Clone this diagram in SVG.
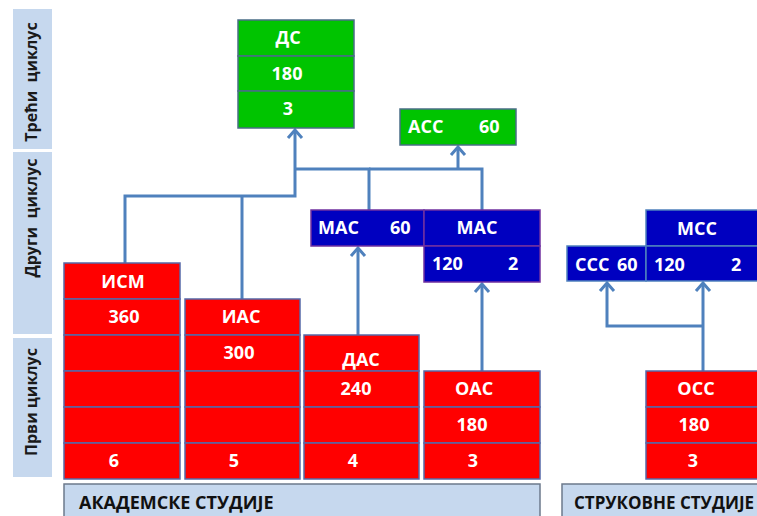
<svg xmlns="http://www.w3.org/2000/svg" width="757" height="516" viewBox="0 0 757 516">
<defs>
<style>
.band{fill:#C6D8EE;}
.bl{font-family:"Open Sans","Liberation Sans",sans-serif;font-weight:bold;font-size:16px;fill:#1A1A1A;text-anchor:middle;}
.red{fill:#FF0000;stroke:#5668A8;stroke-width:1.5;}
.grn{fill:#00C400;stroke:#4A6E86;stroke-width:1.5;}
.blu{fill:#0000C0;stroke:#7030A0;stroke-width:1.5;}
.blu2{fill:#0000C0;stroke:#4F81BD;stroke-width:1.5;}
.t{font-family:"Open Sans","Liberation Sans",sans-serif;font-weight:bold;font-size:18px;fill:#FFFFFF;}
.c{text-anchor:middle;}
.bar{fill:#C6D8EE;stroke:#6C7A8C;stroke-width:1.5;}
.bt{font-family:"Open Sans","Liberation Sans",sans-serif;font-weight:bold;font-size:18px;fill:#111111;}
.con{fill:none;stroke:#4F81BD;stroke-width:3;}
</style>
<marker id="ar" markerUnits="userSpaceOnUse" viewBox="-10 -9 12 18" refX="0" refY="0" markerWidth="12" markerHeight="18" orient="auto">
<path d="M-8,-7 L0,0 L-8,7" fill="none" stroke="#4F81BD" stroke-width="3"/>
</marker>
</defs>
<g id="cycle-labels">
<rect class="band" x="13" y="9" width="39" height="140"/>
<rect class="band" x="13" y="152" width="39" height="182"/>
<rect class="band" x="13" y="338" width="39" height="139"/>
<text class="bl" transform="translate(37,82) rotate(-90)" xml:space="preserve">Трећи  циклус</text>
<text class="bl" transform="translate(37,218) rotate(-90)" xml:space="preserve">Други  циклус</text>
<text class="bl" transform="translate(37,402) rotate(-90)">Први циклус</text>
</g>
<g id="connectors">
<path class="con" d="M125,263 V196 H295 V130" marker-end="url(#ar)"/>
<path class="con" d="M242,299 V196"/>
<path class="con" d="M369,210 V169 H295"/>
<path class="con" d="M369,169 H482 V210"/>
<path class="con" d="M458,169 V147" marker-end="url(#ar)"/>
<path class="con" d="M358,335 V248" marker-end="url(#ar)"/>
<path class="con" d="M482,371 V284" marker-end="url(#ar)"/>
<path class="con" d="M703,371 V283" marker-end="url(#ar)"/>
<path class="con" d="M703,326 H607 V283" marker-end="url(#ar)"/>
</g>
<g id="node-ds">
<rect class="grn" x="238" y="20" width="116" height="36"/>
<rect class="grn" x="238" y="56" width="116" height="35"/>
<rect class="grn" x="238" y="91" width="116" height="37"/>
<text class="t c" x="288" y="44">ДС</text>
<text class="t c" x="287" y="80">180</text>
<text class="t c" x="288" y="115">3</text>
</g>
<g id="node-acc">
<rect class="grn" x="400" y="109" width="116" height="36"/>
<text class="t" x="408" y="133">АСС</text>
<text class="t" x="479" y="133">60</text>
</g>
<g id="node-mac60">
<rect class="blu" x="311" y="210" width="113" height="36"/>
<text class="t" x="318" y="234">МАС</text>
<text class="t" x="390" y="234">60</text>
</g>
<g id="node-mac120">
<rect class="blu" x="424" y="210" width="116" height="36"/>
<rect class="blu" x="424" y="246" width="116" height="36"/>
<text class="t c" x="477" y="234">МАС</text>
<text class="t" x="432" y="270">120</text>
<text class="t" x="508" y="270">2</text>
</g>
<g id="node-ccc">
<rect class="blu2" x="567" y="246" width="79" height="35"/>
<text class="t" x="575" y="271">ССС</text>
<text class="t" x="617" y="271">60</text>
</g>
<g id="node-mcc">
<rect class="blu2" x="646" y="210" width="116" height="36"/>
<rect class="blu2" x="646" y="246" width="116" height="35"/>
<text class="t c" x="697" y="235">МСС</text>
<text class="t" x="654" y="271">120</text>
<text class="t" x="731" y="271">2</text>
</g>
<g id="node-ism">
<rect class="red" x="64" y="263" width="116" height="36"/>
<rect class="red" x="64" y="299" width="116" height="36"/>
<rect class="red" x="64" y="335" width="116" height="36"/>
<rect class="red" x="64" y="371" width="116" height="36"/>
<rect class="red" x="64" y="407" width="116" height="36"/>
<rect class="red" x="64" y="443" width="116" height="36"/>
<text class="t c" x="123" y="288">ИСМ</text>
<text class="t c" x="124" y="323">360</text>
<text class="t c" x="114" y="467">6</text>
</g>
<g id="node-ias">
<rect class="red" x="185" y="299" width="115" height="36"/>
<rect class="red" x="185" y="335" width="115" height="36"/>
<rect class="red" x="185" y="371" width="115" height="36"/>
<rect class="red" x="185" y="407" width="115" height="36"/>
<rect class="red" x="185" y="443" width="115" height="36"/>
<text class="t c" x="241" y="323">ИАС</text>
<text class="t c" x="239" y="359">300</text>
<text class="t c" x="234" y="467">5</text>
</g>
<g id="node-das">
<rect class="red" x="304" y="335" width="115" height="36"/>
<rect class="red" x="304" y="371" width="115" height="36"/>
<rect class="red" x="304" y="407" width="115" height="36"/>
<rect class="red" x="304" y="443" width="115" height="36"/>
<text class="t c" x="361" y="366">ДАС</text>
<text class="t c" x="356" y="395">240</text>
<text class="t c" x="353" y="467">4</text>
</g>
<g id="node-oas">
<rect class="red" x="424" y="371" width="116" height="36"/>
<rect class="red" x="424" y="407" width="116" height="36"/>
<rect class="red" x="424" y="443" width="116" height="36"/>
<text class="t c" x="474" y="395">ОАС</text>
<text class="t c" x="472" y="431">180</text>
<text class="t c" x="473" y="467">3</text>
</g>
<g id="node-oss">
<rect class="red" x="646" y="371" width="116" height="36"/>
<rect class="red" x="646" y="407" width="116" height="36"/>
<rect class="red" x="646" y="443" width="116" height="36"/>
<text class="t c" x="696" y="395">ОСС</text>
<text class="t c" x="694" y="431">180</text>
<text class="t c" x="693" y="467">3</text>
</g>
<g id="bar-academic">
<rect class="bar" x="64" y="484" width="476" height="40"/>
<text class="bt" x="79" y="509">АКАДЕМСКЕ СТУДИЈЕ</text>
</g>
<g id="bar-professional">
<rect class="bar" x="562" y="484" width="220" height="40"/>
<text class="bt" x="574" y="509" style="font-size:17px">СТРУКОВНЕ СТУДИЈЕ</text>
</g>
</svg>
